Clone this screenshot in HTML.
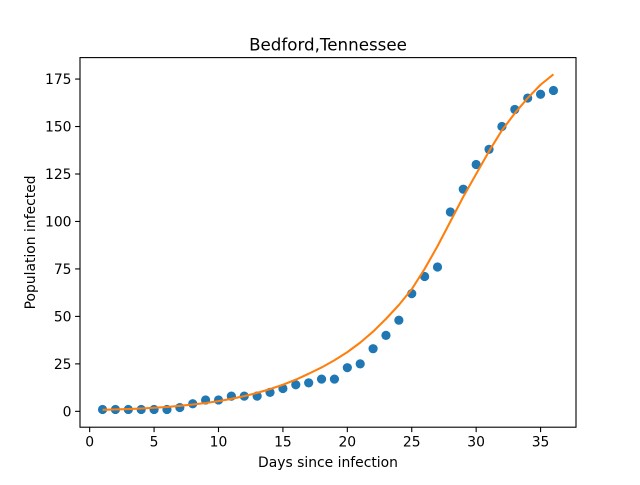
<!DOCTYPE html>
<html><head><meta charset="utf-8"><style>
body{margin:0;background:#fff;font-family:"Liberation Sans","DejaVu Sans",sans-serif}
text{font-family:"DejaVu Sans","Liberation Sans",sans-serif}
</style></head><body>
<svg id="c" width="640" height="480" xmlns="http://www.w3.org/2000/svg"></svg>
<script>
const days=[1,2,3,4,5,6,7,8,9,10,11,12,13,14,15,16,17,18,19,20,21,22,23,24,25,26,27,28,29,30,31,32,33,34,35,36];
const infected=[1,1,1,1,1,1,2,4,6,6,8,8,8,10,12,14,15,17,17,23,25,33,40,48,62,71,76,105,117,130,138,150,159,165,167,169];
const fitted=[0.8,1,1.2,1.5,1.9,2.3,2.9,3.6,4.4,5.4,6.6,8,9.7,11.7,14,16.7,19.8,23.1,26.9,31.2,36.2,42,48.7,56,64.3,75,87,100,113,125,137,148,157,165,172,177.5];
const xTicks=[0,5,10,15,20,25,30,35];
const yTicks=[0,25,50,75,100,125,150,175];
const L=80,R=576,T=57.6,B=427.2,x0=-0.75,x1=37.75,y0=-8.35,y1=186.3;
const X=v=>L+(v-x0)/(x1-x0)*(R-L);
const Y=v=>B-(v-y0)/(y1-y0)*(B-T);
const s=document.getElementById('c');const NS='http://www.w3.org/2000/svg';
function mk(t,a,p){const e=document.createElementNS(NS,t);for(const k in a)e.setAttribute(k,a[k]);(p||s).appendChild(e);return e;}
let g=mk('g',{});


xTicks.forEach(v=>{mk('line',{x1:X(v),x2:X(v),y1:B,y2:B+4.9,stroke:'#000','stroke-width':1.1},g);const t=mk('text',{x:X(v),y:B+19.5,'font-size':13.9,'text-anchor':'middle'},g);t.textContent=v;});
g=mk('g',{});


yTicks.forEach(v=>{mk('line',{x1:L-4.9,x2:L,y1:Y(v),y2:Y(v),stroke:'#000','stroke-width':1.1},g);const t=mk('text',{x:L-8.5,y:Y(v)+5,'font-size':13.9,'text-anchor':'end'},g);t.textContent=v;});
g=mk('g',{});


days.forEach((d,i)=>{const c=mk('circle',{cx:X(d),cy:Y(infected[i]),r:4.6,fill:'#1f77b4'},g);

});
const p=mk('polyline',{points:days.map((d,i)=>X(d)+','+Y(fitted[i])).join(' '),fill:'none',stroke:'#ff7f0e','stroke-width':2.08,'stroke-linejoin':'round'});


const f=mk('rect',{x:L,y:T,width:R-L,height:B-T,fill:'none',stroke:'#000','stroke-width':1.1});


let t=mk('text',{x:(L+R)/2,y:T-7,'font-size':16.7,'text-anchor':'middle'});t.textContent='Bedford,Tennessee';


t=mk('text',{x:(L+R)/2,y:467,'font-size':13.9,'text-anchor':'middle'});t.textContent='Days since infection';


t=mk('text',{x:0,y:0,'font-size':13.9,'text-anchor':'middle',transform:'translate(35,'+((T+B)/2)+') rotate(-90)'});t.textContent='Population infected';


</script>
</body></html>
